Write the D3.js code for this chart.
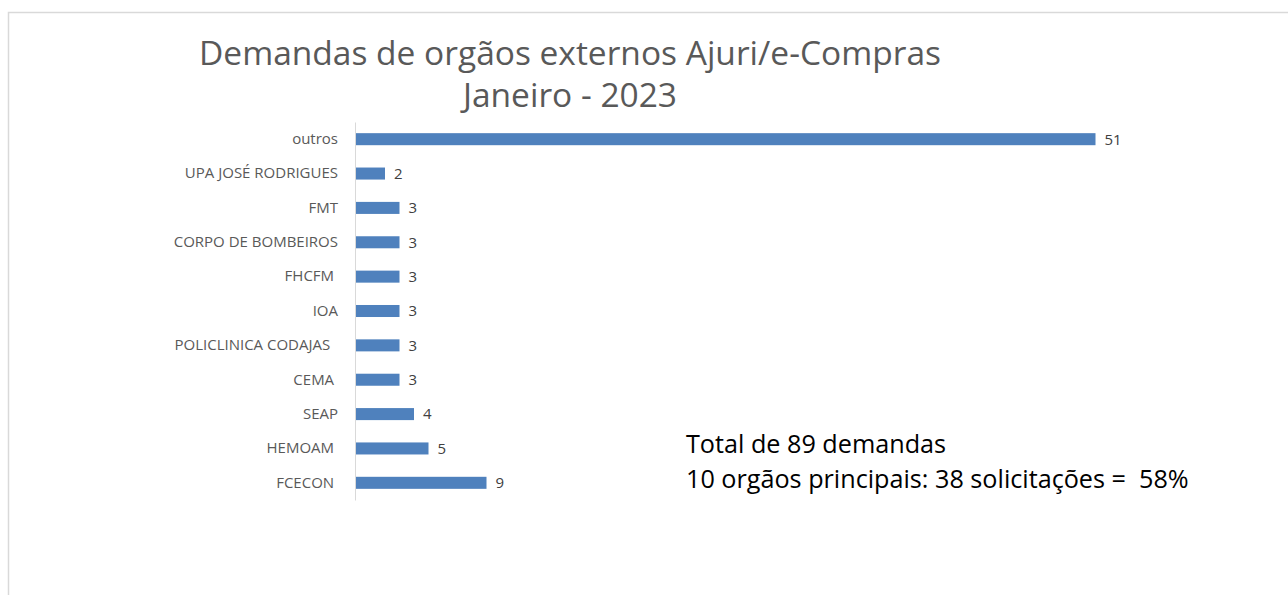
<!DOCTYPE html>
<html>
<head>
    <meta charset="utf-8">
    <style>
        body {
            margin: 0;
            background: #fff;
        }

        svg {
            display: block;
            font-family: "Open Sans", "DejaVu Sans", sans-serif;
        }

        .y .tick line {
            display: none;
        }

        .y .domain {
            stroke: #d9d9d9;
        }

        .y .tick text {
            font-family: "Open Sans", sans-serif;
            font-size: 15px;
            fill: #595959;
            white-space: pre;
        }

        .note {
            white-space: pre;
        }
    </style>
</head>

<body>
    <svg width="1288" height="595"></svg>

    <script src="https://d3js.org/d3.v7.min.js"></script>
    <script>
        // data, top to bottom as in the chart (some names carry trailing spaces in the source)
        let categories = ["outros", "UPA JOSÉ RODRIGUES", "FMT", "CORPO DE BOMBEIROS", "FHCFM ", "IOA",
            "POLICLINICA CODAJAS  ", "CEMA ", "SEAP", "HEMOAM ", "FCECON "];
        let values = [51, 2, 3, 3, 3, 3, 3, 3, 4, 5, 9];

        let titleLines = ["Demandas de orgãos externos Ajuri/e-Compras", "Janeiro - 2023"];
        let noteLines = ["Total de 89 demandas", "10 orgãos principais: 38 solicitações =  58%"];

        let data = categories.map((c, i) => ({ name: c, value: values[i] }));

        let svg = d3.select("svg");

        // chart frame (only top and left edges visible in the picture)
        svg.append("rect")
            .attr("x", 8.5)
            .attr("y", 12.5)
            .attr("width", 1400)
            .attr("height", 700)
            .style("fill", "none")
            .style("stroke", "#d9d9d9")
            .style("stroke-width", "1.5px");

        let margin = { top: 122, left: 355, bottom: 500 };

        let x = d3.scaleLinear()
            .domain([0, 60])
            .range([margin.left, margin.left + 870]);

        let y = d3.scaleBand()
            .domain(categories)
            .range([margin.top, margin.bottom])
            .paddingInner(0.65)
            .paddingOuter(0.325);

        let yAxis = svg.append("g")
            .attr("class", "y axis")
            .attr("transform", `translate(${margin.left},0)`)
            .call(d3.axisLeft(y).tickSize(0).tickPadding(17).tickSizeOuter(0));

        svg.append("g")
            .selectAll("rect.bar")
            .data(data)
            .join("rect")
            .attr("class", "bar")
            .attr("x", x(0) + 1)
            .attr("y", d => y(d.name))
            .attr("width", d => x(d.value) - x(0))
            .attr("height", y.bandwidth())
            .style("fill", "#4f81bd");

        svg.append("g")
            .selectAll("text.val")
            .data(data)
            .join("text")
            .attr("class", "val")
            .attr("x", d => x(d.value) + 10)
            .attr("y", d => y(d.name) + y.bandwidth() / 2)
            .attr("dy", "0.36em")
            .style("font-size", "15px")
            .style("fill", "#404040")
            .text(d => d.value);

        svg.append("g")
            .selectAll("text.title")
            .data(titleLines)
            .join("text")
            .attr("class", "title")
            .attr("x", 570)
            .attr("y", (d, i) => 65 + i * 42)
            .attr("text-anchor", "middle")
            .style("font-size", "33.5px")
            .style("fill", "#595959")
            .text(d => d);

        svg.append("g")
            .selectAll("text.note")
            .data(noteLines)
            .join("text")
            .attr("class", "note")
            .attr("x", 686)
            .attr("y", (d, i) => 453 + i * 35)
            .style("font-size", "25.2px")
            .style("fill", "#000")
            .text(d => d);
    </script>
</body>
</html>
